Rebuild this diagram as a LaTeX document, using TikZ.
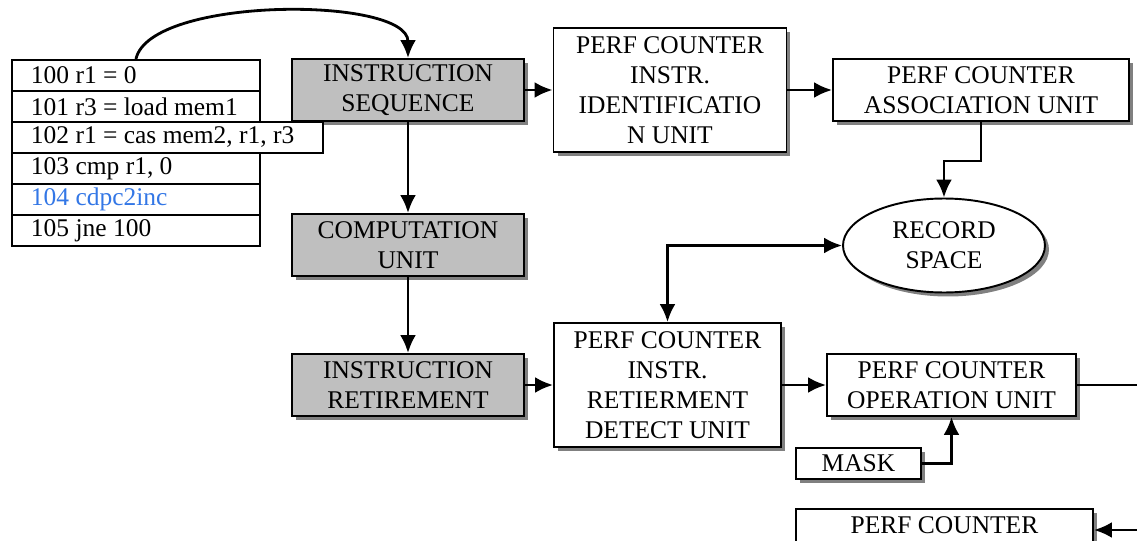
\documentclass[tikz,border=0pt]{standalone}
\usepackage{fontspec}
\setmainfont{Liberation Serif}
\usetikzlibrary{arrows.meta,shadows,shapes.geometric}
\definecolor{cdblue}{RGB}{51,119,230}
\newcommand{\codeline}[2][4.2cm]{\makebox[#1][l]{#2}}

\begin{document}
\begin{tikzpicture}[x=0.02cm, y=-0.02cm, font=\fontsize{14.5}{17}\selectfont,
  box/.style={draw, fill=white, line width=1.1pt, align=center, inner sep=0pt, drop shadow={shadow xshift=0.08cm, shadow yshift=-0.08cm, fill=black!50, opacity=1}},
  gbox/.style={box, fill=black!25, minimum width=4.64cm, minimum height=1.24cm},
  row/.style={draw, fill=white, line width=1.1pt, anchor=north west, minimum height=0.62cm, inner xsep=0.38cm, inner ysep=0pt},
  n/.style={-{Latex[length=0.36cm, width=0.32cm]}, line width=1.6pt},
  nn/.style={{Latex[length=0.36cm, width=0.32cm]}-{Latex[length=0.36cm, width=0.32cm]}, line width=1.6pt}]
                \useasboundingbox (0,0) rectangle (1137,541);
                \clip (0,0) rectangle (1137,541);
                % pipeline
                \node[gbox] (seq) at (408,90) {INSTRUCTION\\SEQUENCE};
                \node[gbox] (comp) at (408,245) {COMPUTATION\\UNIT};
                \node[gbox] (ret) at (408,385) {INSTRUCTION\\RETIREMENT};
                % code listing
                \node[row] (r100) at (11,59) {\codeline{100 r1 = 0}};
                \node[row] (r101) at (11,90) {\codeline{101 r3 = load mem1}};
                \node[row] (r102) at (11,121) {\codeline[5.46cm]{102 r1 = cas mem2, r1, r3}};
                \node[row] (r103) at (11,152) {\codeline{103 cmp r1, 0}};
                \node[row, text=cdblue] (r104) at (11,183) {\codeline{104 cdpc2inc}};
                \node[row] (r105) at (11,214) {\codeline{105 jne 100}};
                % perf counter units
                \node[box, minimum width=4.66cm, minimum height=2.48cm] (ident) at (670,90) {PERF COUNTER\\INSTR.\\IDENTIFICATIO\\N UNIT};
                \node[box, minimum width=5.92cm, minimum height=1.24cm] (assoc) at (981,90) {PERF COUNTER\\ASSOCIATION UNIT};
                \node[box, ellipse, minimum width=4.04cm, minimum height=1.88cm] (rec) at (944,245.5) {RECORD\\SPACE};
                \node[box, minimum width=4.54cm, minimum height=2.48cm] (det) at (667.5,385) {PERF COUNTER\\INSTR.\\RETIERMENT\\DETECT UNIT};
                \node[box, minimum width=4.98cm, minimum height=1.24cm] (op) at (951.5,385) {PERF COUNTER\\OPERATION UNIT};
                \node[box, minimum width=2.5cm, minimum height=0.62cm] (mask) at (858.5,463.5) {MASK};
                \node[box, minimum width=5.94cm, minimum height=1.24cm] (pc) at (944.5,540) {PERF COUNTER\\\phantom{PERF COUNTER}};
                \coordinate (out) at (1137,385);
                \coordinate (in) at (1137,530);
                % edges
                \draw[n] (r100.north) .. controls (150,-4) and (408,-4) .. (seq.north);
                \draw[n] (seq) -- (ident);
                \draw[n] (ident) -- (assoc);
                \draw[n] (seq) -- (comp);
                \draw[n] (comp) -- (ret);
                \draw[n] (ret) -- (det);
                \draw[n] (assoc.south) -- ++(0,39) -| (rec.north);
                \draw[nn] (rec.west) -| (det.north);
                \draw[n] (det) -- (op);
                \draw[n] (mask.east) -| (op.south);
                \draw[line width=1.6pt] (op.east) -- (out);
                \draw[n] (in) -- (in -| pc.east);
            \end{tikzpicture}
\end{document}
